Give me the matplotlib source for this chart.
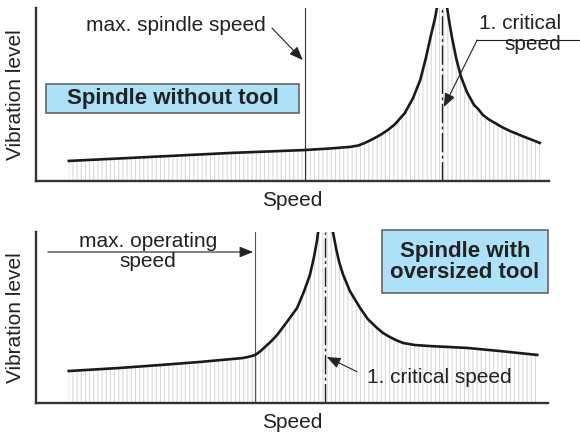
import matplotlib
matplotlib.use("Agg")
import matplotlib.pyplot as plt
from matplotlib.patches import Rectangle

plt.rcParams['font.family'] = ['Liberation Sans', 'DejaVu Sans']
plt.rcParams['hatch.linewidth'] = 0.7

# ---- Panel 1: spindle without tool (speed / vibration in % of axis range)
top_speed = [6.4, 22.2, 37.8, 52.4, 57.3, 61.2, 62.8, 64.1, 65.5, 67.1, 68.6,
             70.0, 71.9, 73.5, 74.9, 76.0, 77.0, 77.8, 78.4,
             79.9, 80.5, 81.1, 81.9, 82.8, 84.0, 85.4, 86.2, 87.1, 88.3, 89.5,
             90.8, 92.4, 95.3, 98.2]
top_vib = [11.6, 13.9, 16.2, 17.9, 18.8, 19.7, 20.5, 22.0, 24.0, 26.6, 29.5,
           32.9, 39.3, 48.0, 58.4, 71.1, 84.4, 94.2, 104.6,
           104.6, 93.1, 82.7, 71.1, 60.7, 51.4, 43.9, 41.6, 38.2, 35.5, 33.5,
           31.2, 28.9, 25.4, 22.0]
top_max_speed = 52.4
top_critical = 79.1

# ---- Panel 2: spindle with oversized tool
bot_speed = [6.4, 16.4, 24.2, 32.0, 40.4, 41.8, 42.8, 43.75, 44.7, 45.9, 47.1,
             49.0, 51.0, 52.3, 53.5, 54.3, 54.9, 55.3,
             57.8, 58.0, 58.6, 59.2, 60.0, 61.3, 63.3, 64.8, 66.6, 67.8, 69.1,
             70.3, 71.7, 74.0, 76.95, 84.2, 90.6, 97.9]
bot_vib = [18.7, 20.5, 22.2, 24.0, 26.3, 27.2, 28.1, 30.1, 32.7, 36.0, 39.8,
           47.4, 55.6, 64.9, 74.9, 85.4, 95.3, 104.7,
           104.7, 100.0, 90.6, 82.5, 74.9, 65.5, 55.6, 49.1, 43.9, 40.9, 38.6,
           36.8, 35.1, 33.9, 33.3, 32.2, 30.4, 28.1]
bot_max_speed = 42.8
bot_critical = 56.4

TEXT = '#222222'
AXIS = '#333333'
BOX = '#ade1f7'
HATCH = '#d4d4d4'
DASHDOT = (0, (14, 2.5, 2, 2.5))
FS = 15
FS_BOX = 16

fig = plt.figure(figsize=(5.8, 4.37), dpi=100)
ax1 = fig.add_axes([36/580, (437-181)/437, 513/580, 173/437])
ax2 = fig.add_axes([36/580, (437-403)/437, 512/580, 171/437])


def style_axes(ax):
    ax.set_xlim(0, 100)
    ax.set_ylim(0, 100)
    ax.set_xticks([])
    ax.set_yticks([])
    for side in ('top', 'right'):
        ax.spines[side].set_visible(False)
    for side in ('left', 'bottom'):
        ax.spines[side].set_color(AXIS)
        ax.spines[side].set_linewidth(1.7)
    ax.set_facecolor('none')


def draw_curve(ax, speed, vib):
    ax.fill_between(speed, 0, vib, facecolor='none', edgecolor=HATCH,
                    hatch='||||', linewidth=0, zorder=1)
    ax.plot(speed, vib, color='#1a1a1a', lw=1.9, solid_joinstyle='round',
            zorder=3)


arrow = dict(arrowstyle='-|>,head_length=0.55,head_width=0.22',
             color='#222222', lw=0.8, shrinkA=0, shrinkB=0,
             mutation_scale=15)

# ---------------- top panel
style_axes(ax1)
draw_curve(ax1, top_speed, top_vib)
ax1.axvline(top_max_speed, color='#333333', lw=0.8, zorder=2)
ax1.axvline(top_critical, color='#222222', lw=1.0, ls=DASHDOT, zorder=2)

ax1.text(44.8, 90.0, 'max. spindle speed', ha='right', va='center',
         fontsize=FS, color=TEXT)
ax1.annotate('', xy=(52.0, 69.9), xytext=(46.0, 88.4), arrowprops=arrow)
ax1.text(102.4, 85.0, '1. critical\nspeed', ha='right', va='center',
         multialignment='right', fontsize=FS, color=TEXT, linespacing=1.1,
         clip_on=False)
ax1.plot([86.0, 106.5], [81.5, 81.5], color='#222222', lw=0.8,
         clip_on=False)
ax1.annotate('', xy=(79.5, 42.8), xytext=(86.0, 81.5), arrowprops=arrow)

ax1.add_patch(Rectangle((1.95, 39.3), 49.3, 16.8, facecolor=BOX,
                        edgecolor='#5a5a5a', lw=1.1, zorder=4))
ax1.text(26.6, 47.8, 'Spindle without tool', ha='center', va='center',
         fontsize=FS_BOX, fontweight='bold', color=TEXT, zorder=5)

ax1.set_ylabel('Vibration level', fontsize=FS, color=TEXT, labelpad=8)
ax1.set_xlabel('Speed', fontsize=FS, color=TEXT, labelpad=7)

# ---------------- bottom panel
style_axes(ax2)
draw_curve(ax2, bot_speed, bot_vib)
ax2.axvline(bot_max_speed, color='#555555', lw=0.8, zorder=2)
ax2.axvline(bot_critical, color='#222222', lw=1.0, ls=DASHDOT, zorder=2)

ax2.annotate('', xy=(42.4, 88.3), xytext=(2.3, 88.3), arrowprops=arrow)
ax2.text(21.9, 88.6, 'max. operating\nspeed', ha='center', va='center',
         fontsize=FS, color=TEXT, linespacing=1.05)

ax2.text(64.6, 15.2, '1. critical speed', ha='left', va='center',
         fontsize=FS, color=TEXT)
ax2.annotate('', xy=(56.8, 26.9), xytext=(62.7, 18.3), arrowprops=arrow)

ax2.add_patch(Rectangle((67.6, 64.3), 32.4, 36.9, facecolor=BOX,
                        edgecolor='#5a5a5a', lw=1.1, zorder=4, clip_on=False))
ax2.text(83.8, 82.6, 'Spindle with\noversized tool', ha='center',
         va='center', fontsize=FS_BOX, fontweight='bold', color=TEXT,
         linespacing=0.98, zorder=5)

ax2.set_ylabel('Vibration level', fontsize=FS, color=TEXT, labelpad=8)
ax2.set_xlabel('Speed', fontsize=FS, color=TEXT, labelpad=7)

fig.savefig('out.png', dpi=100)
